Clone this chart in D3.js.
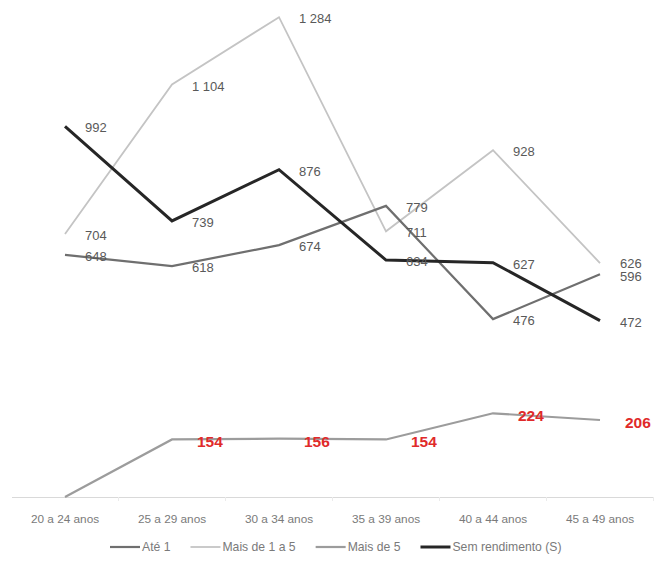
<!DOCTYPE html>
<html>
<head>
<meta charset="utf-8">
<script src="https://cdn.jsdelivr.net/npm/d3@7"></script>
<style>
  html, body { margin: 0; padding: 0; background: #fff; }
  svg { display: block; }
</style>
</head>
<body>
<svg id="chart" width="655" height="564"></svg>
<script>
// ---- Data ----
const categories = ["20 a 24 anos", "25 a 29 anos", "30 a 34 anos", "35 a 39 anos", "40 a 44 anos", "45 a 49 anos"];
const seriesNames = ["Até 1", "Mais de 1 a 5", "Mais de 5", "Sem rendimento (S)"];
const ate1 = [648, 618, 674, 779, 476, 596];
const maisDe1a5 = [704, 1104, 1284, 711, 928, 626];
const maisDe5 = [0, 154, 156, 154, 224, 206];
const semRendimento = [992, 739, 876, 634, 627, 472];

const series = [
  { name: seriesNames[0], values: ate1, color: "#6f6f6f", width: 2.2, labelColor: "#595959", red: false },
  { name: seriesNames[1], values: maisDe1a5, color: "#c4c4c4", width: 1.8, labelColor: "#595959", red: false },
  { name: seriesNames[2], values: maisDe5, color: "#9c9c9c", width: 2.2, labelColor: "#e02a2a", red: true },
  { name: seriesNames[3], values: semRendimento, color: "#262626", width: 3, labelColor: "#595959", red: false }
];
const drawOrder = [1, 2, 0, 3];

const fmt = v => {
  const s = String(v);
  return s.length > 3 ? s.slice(0, s.length - 3) + " " + s.slice(-3) : s;
};

const FONT = "'Liberation Sans', Arial, sans-serif";
const svg = d3.select("#chart");

const x = d3.scaleBand().domain(categories).range([11.5, 653.5]).padding(0);
const cx = c => x(c) + x.bandwidth() / 2;
const y = d3.scaleLinear().domain([0, 1330]).range([497, 0]);

// ---- Axis ----
const axis = d3.axisBottom(x).tickSize(0).tickSizeOuter(0);
const gx = svg.append("g").attr("transform", `translate(0,${y(0)})`).call(axis);
gx.select(".domain").attr("stroke", "#d9d9d9").attr("stroke-width", 1.2);
gx.selectAll(".tick text")
  .attr("y", 22).attr("dy", "0.35em")
  .attr("fill", "#7a7a7a")
  .style("font-family", FONT)
  .style("font-size", "11.8px");
svg.append("g").selectAll("line")
  .data(categories.slice(1).concat([null]))
  .join("line")
  .attr("x1", d => d === null ? x.range()[1] : x(d))
  .attr("x2", d => d === null ? x.range()[1] : x(d))
  .attr("y1", y(0)).attr("y2", y(0) + 4)
  .attr("stroke", "#ebebeb").attr("stroke-width", 1);

// ---- Lines ----
const line = d3.line()
  .x((d, i) => cx(categories[i]))
  .y(d => y(d));

const gLines = svg.append("g");
drawOrder.forEach(k => {
  const s = series[k];
  gLines.append("path")
    .datum(s.values)
    .attr("fill", "none")
    .attr("stroke", s.color)
    .attr("stroke-width", s.width)
    .attr("stroke-linejoin", "miter")
    .attr("d", line);
});

// ---- Labels (with simple vertical de-overlap per category) ----
const labels = [];
drawOrder.forEach(k => {
  const s = series[k];
  s.values.forEach((v, i) => {
    if (v > 0) labels.push({ v, i, s, ly: y(v) + (s.red ? 2.5 : 1.5) });
  });
});
const minGap = 13.5;
categories.forEach((c, i) => {
  const group = labels.filter(d => d.i === i && !d.s.red).sort((a, b) => a.ly - b.ly);
  for (let j = 1; j < group.length; j++) {
    const gap = group[j].ly - group[j - 1].ly;
    if (gap < minGap) {
      const push = (minGap - gap) / 2;
      group[j - 1].ly -= push;
      group[j].ly += push;
    }
  }
});

svg.append("g").selectAll("text")
  .data(labels)
  .join("text")
  .attr("x", d => cx(categories[d.i]) + (d.s.red ? 25 : 20))
  .attr("y", d => d.ly)
  .attr("dy", "0.35em")
  .attr("fill", d => d.s.labelColor)
  .style("font-family", FONT)
  .style("font-size", d => d.s.red ? "15.5px" : "13px")
  .style("font-weight", d => d.s.red ? "bold" : "normal")
  .text(d => fmt(d.v));

// ---- Legend ----
const legend = svg.append("g").attr("transform", "translate(0,547)");
let lx = 110;
series.forEach(s => {
  legend.append("line")
    .attr("x1", lx).attr("x2", lx + 30)
    .attr("y1", 0).attr("y2", 0)
    .attr("stroke", s.color)
    .attr("stroke-width", s.width);
  const t = legend.append("text")
    .attr("x", lx + 32).attr("y", 0).attr("dy", "0.35em")
    .attr("fill", "#7a7a7a")
    .style("font-family", FONT)
    .style("font-size", "12.2px")
    .text(s.name);
  lx = lx + 32 + t.node().getComputedTextLength() + 20;
});
</script>
</body>
</html>
